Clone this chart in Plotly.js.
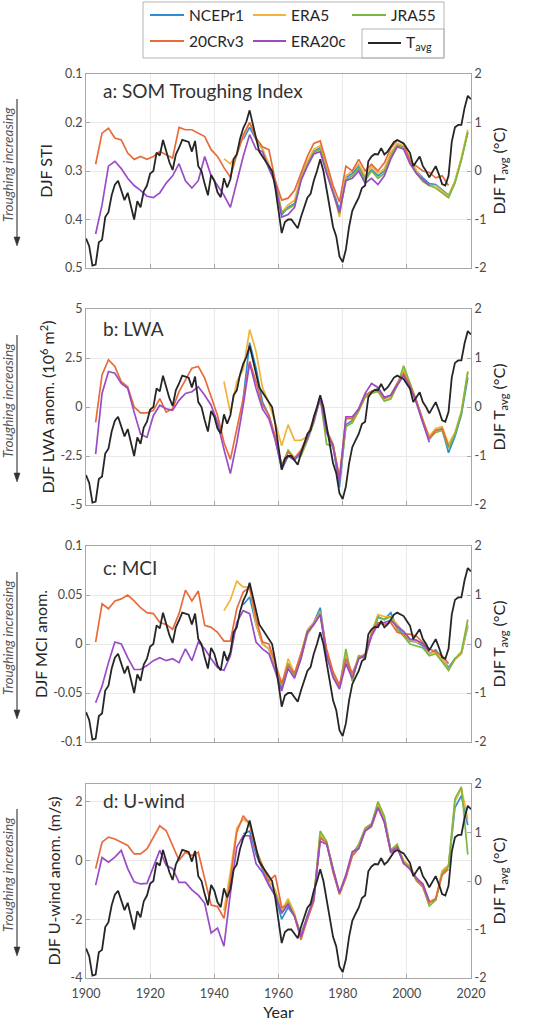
<!DOCTYPE html>
<html>
<head>
<meta charset="utf-8">
<script src="https://cdn.plot.ly/plotly-3.0.1.min.js"></script>
<style>
  html, body { margin: 0; padding: 0; background: #ffffff; }
  #chart { width: 547px; height: 1024px; }
</style>
</head>
<body>
<div id="chart"></div>
<script>
// ---- Years ----
const yrTavg = [
  1900,1901,1902,1903,1904,1905,1906,1907,1908,1909,
  1910,1911,1912,1913,1914,1915,1916,1917,1918,1919,
  1920,1921,1922,1923,1924,1925,1926,1927,1928,1929,
  1930,1931,1932,1933,1934,1935,1936,1937,1938,1939,
  1940,1941,1942,1943,1944,1945,1946,1947,1948,1949,
  1950,1951,1952,1953,1954,1955,1956,1957,1958,1959,
  1960,1961,1962,1963,1964,1965,1966,1967,1968,1969,
  1970,1971,1972,1973,1974,1975,1976,1977,1978,1979,
  1980,1981,1982,1983,1984,1985,1986,1987,1988,1989,
  1990,1991,1992,1993,1994,1995,1996,1997,1998,1999,
  2000,2001,2002,2003,2004,2005,2006,2007,2008,2009,
  2010,2011,2012,2013,2014,2015,2016,2017,2018,2019,
  2020];
const yr20C = [1903,1905,1907,1909,1911,1913,1915,1917,1919,1921,1923,1925,1927,1929,1931,1933,1935,1937,1939,1941,
  1943,1945,1947,1949,1951,1953,1955,1957,1959,1961,1963,1965,1967,1969,1971,1973,1975,1977,1979,1981,
  1983,1985,1987,1989,1991,1993,1995,1997,1999,2001,2003,2005,2007,2009,2011,2013];
const yrE20C = [1903,1905,1907,1909,1911,1913,1915,1917,1919,1921,1923,1925,1927,1929,1931,1933,1935,1937,1939,1941,
  1943,1945,1947,1949,1951,1953,1955,1957,1959,1961,1963,1965,1967,1969,1971,1973,1975,1977,1979,1981,
  1983,1985,1987,1989,1991,1993,1995,1997,1999,2001,2003,2005,2007];
const yrERA5 = [1943,1945,1947,1949,1951,1953,1955,1957,1959,1961,1963,1965,1967,1969,1971,1973,1975,1977,1979,1981,
  1983,1985,1987,1989,1991,1993,1995,1997,1999,2001,2003,2005,2007,2009,2011,2013,2015,2017,2019];
const yrNCEP = [1949,1951,1953,1955,1957,1959,1961,1963,1965,1967,1969,1971,1973,1975,1977,1979,1981,1983,1985,1987,
  1989,1991,1993,1995,1997,1999,2001,2003,2005,2007,2009,2011,2013,2015,2017,2019];
const yrJRA = [1959,1961,1963,1965,1967,1969,1971,1973,1975,1977,1979,1981,1983,1985,1987,1989,1991,1993,1995,1997,
  1999,2001,2003,2005,2007,2009,2011,2013,2015,2017,2019];

// ---- DJF average temperature (right axis, °C) ----
const tavg = [
  -1.39,-1.55,-1.95,-1.93,-1.47,-1.42,-0.95,-0.85,-0.5,-0.28,
  -0.2,-0.42,-0.6,-0.45,-0.7,-1.0,-0.62,-0.75,-0.42,-0.3,
  -0.05,0.0,0.38,0.32,0.64,0.42,0.18,0.02,0.34,0.48,
  0.64,0.62,0.6,0.4,0.62,0.1,0.0,-0.27,-0.5,-0.08,
  -0.2,-0.44,-0.54,-0.15,-0.34,-0.17,0.24,0.34,0.66,0.88,
  1.02,1.25,0.98,0.7,0.4,0.3,0.2,0.1,0.0,-0.35,
  -0.8,-1.28,-1.05,-1.0,-1.0,-1.1,-1.18,-0.95,-0.74,-0.55,
  -0.47,-0.2,0.0,0.24,0.0,-0.4,-0.74,-1.15,-1.35,-1.76,
  -1.88,-1.62,-1.15,-0.82,-0.68,-0.55,-0.35,-0.3,0.2,0.3,
  0.35,0.34,0.47,0.34,0.4,0.5,0.6,0.64,0.6,0.57,
  0.47,0.37,0.1,0.2,0.3,0.1,0.0,-0.13,0.0,0.1,
  -0.07,-0.27,-0.3,-0.1,0.6,0.9,0.95,0.95,1.3,1.55,
  1.48];

// ---- a: SOM Troughing Index ----
const a20C = [0.286,0.222,0.212,0.232,0.236,0.263,0.276,0.27,0.276,0.27,
  0.26,0.266,0.273,0.21,0.215,0.215,0.222,0.229,0.256,0.27,
  0.293,0.313,0.266,0.226,0.2,0.232,0.25,0.256,0.32,0.36,
  0.356,0.34,0.305,0.27,0.243,0.238,0.284,0.33,0.364,0.29,
  0.3,0.276,0.3,0.286,0.3,0.283,0.253,0.236,0.243,0.28,
  0.29,0.3,0.303,0.314,0.31,0.33];
const aE20C = [0.43,0.37,0.29,0.28,0.295,0.315,0.33,0.34,0.352,0.355,
  0.345,0.325,0.31,0.285,0.32,0.335,0.32,0.27,0.31,0.33,
  0.35,0.375,0.32,0.27,0.225,0.255,0.26,0.295,0.325,0.395,
  0.39,0.375,0.32,0.29,0.265,0.26,0.305,0.345,0.385,0.32,
  0.315,0.3,0.325,0.315,0.328,0.31,0.275,0.25,0.255,0.285,
  0.305,0.318,0.33];
const aERA5 = [0.275,0.285,0.265,0.23,0.2,0.232,0.255,0.285,0.32,0.385,
  0.37,0.36,0.31,0.28,0.255,0.248,0.295,0.34,0.395,0.31,
  0.3,0.285,0.31,0.29,0.305,0.295,0.262,0.243,0.248,0.275,
  0.3,0.318,0.33,0.33,0.342,0.352,0.32,0.272,0.215];
const aNCEP = [0.235,0.21,0.235,0.255,0.29,0.32,0.39,0.375,0.367,0.314,
  0.283,0.26,0.252,0.3,0.34,0.38,0.314,0.305,0.29,0.314,
  0.297,0.31,0.3,0.266,0.246,0.25,0.276,0.3,0.314,0.326,
  0.328,0.34,0.35,0.322,0.275,0.22];
const aJRA = [0.325,0.385,0.378,0.37,0.318,0.287,0.262,0.255,0.3,0.343,
  0.388,0.318,0.31,0.295,0.32,0.3,0.315,0.305,0.27,0.248,
  0.252,0.28,0.305,0.322,0.33,0.335,0.345,0.355,0.325,0.278,
  0.22];

// ---- b: LWA anomaly (10^6 m^2) ----
const b20C = [-0.78,1.64,2.41,2.07,1.29,1.03,0.0,-0.3,-0.3,-0.17,
  0.43,-0.26,-0.09,0.78,1.38,1.98,2.07,1.47,0.52,-0.43,
  -1.81,-2.67,-1.12,0.43,2.33,1.29,0.1,-0.4,-1.5,-3.0,
  -2.3,-2.6,-2.2,-1.5,-0.6,0.5,-1.2,-1.9,-3.6,-0.6,
  -0.6,-0.1,0.6,0.8,0.9,0.45,0.6,1.2,1.7,1.1,
  0.3,-0.7,-1.6,-1.2,-1.1,-2.0];
const bE20C = [-2.4,0.69,1.81,1.72,1.2,0.95,-0.26,-1.38,-1.55,-0.43,
  0.09,-0.09,-0.17,0.34,0.69,0.78,1.03,0.6,0.09,-0.78,
  -2.16,-3.4,-1.81,0.09,2.24,0.95,-0.1,-0.6,-1.7,-3.1,
  -2.5,-2.7,-2.3,-1.6,-0.7,0.45,-1.3,-2.0,-3.8,-0.5,
  -0.5,-0.1,0.7,1.2,1.0,0.5,0.6,1.1,1.6,1.0,
  0.2,-0.8,-1.8];
const bERA5 = [1.3,-0.3,1.3,1.9,3.95,2.84,1.0,0.2,-0.8,-1.98,
  -0.9,-1.7,-1.7,-1.5,-0.6,0.5,-1.2,-1.9,-3.6,-1.0,
  -0.8,-0.2,0.5,0.7,0.8,0.3,0.5,1.1,1.9,1.2,
  0.3,-0.7,-1.5,-1.1,-1.0,-1.9,-1.3,-0.2,1.8];
const bNCEP = [0.4,3.28,1.98,0.26,-0.43,-1.64,-3.19,-2.5,-2.7,-2.33,
  -1.64,-0.69,0.52,-1.29,-1.98,-4.1,-0.9,-0.69,-0.09,0.6,
  0.78,0.95,0.43,0.6,1.2,1.72,1.12,0.26,-0.78,-1.64,
  -1.2,-1.12,-2.33,-1.5,-0.4,1.5];
const bJRA = [-1.6,-3.0,-2.2,-2.6,-2.5,-1.7,-0.8,0.45,-1.9,-2.0,
  -3.8,-1.0,-0.8,-0.2,0.5,0.7,0.8,0.3,0.4,1.1,
  2.1,1.2,0.3,-0.8,-1.6,-1.3,-1.2,-2.1,-1.4,-0.3,
  1.8];

// ---- c: MCI anomaly ----
const c20C = [0.002,0.041,0.036,0.044,0.046,0.05,0.044,0.037,0.032,0.031,
  0.022,0.02,0.015,0.031,0.055,0.044,0.054,0.019,0.017,0.012,
  0.003,0.003,0.036,0.053,0.058,0.026,0.002,0.0,-0.02,-0.04,
  -0.022,-0.03,-0.01,0.012,0.02,0.03,-0.005,-0.028,-0.042,-0.015,
  -0.03,-0.015,-0.01,0.01,0.022,0.02,0.022,0.012,0.01,0.01,
  0.008,0.002,-0.005,-0.008,-0.012,-0.02];
const cE20C = [-0.06,-0.043,-0.019,0.002,0.0,-0.014,-0.026,-0.026,-0.022,-0.017,
  -0.014,-0.017,-0.015,-0.019,-0.005,-0.017,0.002,-0.005,-0.015,-0.024,
  -0.027,-0.012,0.022,0.034,0.031,0.002,-0.005,-0.01,-0.028,-0.048,
  -0.025,-0.035,-0.015,0.012,0.02,0.03,-0.012,-0.034,-0.046,-0.02,
  -0.035,-0.015,-0.012,0.008,0.02,0.022,0.024,0.018,0.013,0.005,
  0.004,0.0,-0.008];
const cERA5 = [0.034,0.045,0.064,0.058,0.058,0.02,0.0,-0.005,-0.022,-0.042,
  -0.015,-0.03,-0.01,0.014,0.022,0.033,-0.01,-0.03,-0.044,-0.01,
  -0.032,-0.012,-0.012,0.012,0.03,0.028,0.028,0.02,0.012,0.004,
  0.002,0.0,-0.01,-0.008,-0.015,-0.026,-0.016,-0.01,0.02];
const cNCEP = [0.04,0.048,0.02,0.0,-0.005,-0.024,-0.045,-0.02,-0.032,-0.012,
  0.014,0.022,0.037,-0.009,-0.032,-0.044,-0.015,-0.035,-0.013,-0.012,
  0.01,0.027,0.025,0.032,0.016,0.01,0.003,0.002,-0.002,-0.01,
  -0.006,-0.015,-0.024,-0.015,-0.01,0.018];
const cJRA = [-0.025,-0.042,-0.02,-0.033,-0.015,0.01,0.02,0.032,-0.01,-0.032,
  -0.045,-0.005,-0.038,-0.012,-0.015,0.01,0.028,0.025,0.028,0.015,
  0.008,0.0,-0.002,-0.004,-0.012,-0.01,-0.018,-0.027,-0.015,-0.008,
  0.025];

// ---- d: U-wind anomaly (m/s) ----
const d20C = [-0.28,0.62,0.79,0.73,0.62,0.51,0.22,0.22,0.39,0.79,
  1.18,1.01,0.51,0.0,0.28,0.17,0.28,-0.67,-1.52,-1.57,
  -1.97,-0.67,0.96,1.52,1.24,0.34,-0.2,-0.7,-0.5,-1.6,
  -1.5,-1.9,-2.7,-2.0,-1.4,0.75,0.6,-0.4,-1.15,-0.6,
  0.15,0.4,1.0,1.15,1.8,1.3,0.25,0.45,-0.1,-0.3,
  -0.65,-0.9,-1.45,-1.3,-0.5,-0.3];
const dE20C = [-0.84,0.1,-0.06,0.11,0.34,-0.28,-0.73,-0.8,-0.78,-0.22,
  0.34,-0.17,-0.28,-0.75,-0.75,-1.0,-1.18,-1.46,-2.47,-2.3,
  -2.92,-1.12,0.45,0.84,0.84,-0.11,-0.4,-0.85,-1.2,-1.8,
  -1.5,-1.9,-2.6,-1.9,-1.3,0.65,0.55,-0.3,-1.1,-0.5,
  0.3,0.4,1.0,1.2,1.8,1.3,0.3,0.45,-0.1,-0.3,
  -0.6,-0.8,-1.4];
const dERA5 = [-1.7,-0.4,1.1,1.4,1.25,0.4,-0.2,-0.7,-1.0,-1.7,
  -1.3,-1.8,-2.6,-1.9,-1.3,0.9,0.6,-0.3,-1.1,-0.5,
  0.25,0.5,1.05,1.25,1.9,1.4,0.35,0.5,0.0,-0.2,
  -0.6,-0.8,-1.4,-1.3,-0.35,-0.15,2.0,2.45,1.4];
const dNCEP = [0.9,1.0,0.2,-0.3,-0.8,-1.2,-2.0,-1.6,-1.9,-2.6,
  -1.95,-1.35,0.8,0.6,-0.35,-1.1,-0.55,0.2,0.5,1.05,
  1.2,1.85,1.35,0.3,0.45,-0.1,-0.25,-0.65,-0.85,-1.4,
  -1.35,-0.4,-0.2,1.8,2.2,1.2];
const dJRA = [-1.1,-1.8,-1.4,-1.9,-2.5,-1.9,-1.3,1.0,0.65,-0.3,
  -1.15,-0.55,0.2,0.55,1.1,1.25,2.0,1.5,0.35,0.55,
  -0.05,-0.25,-0.7,-0.9,-1.55,-1.35,-0.45,-0.2,2.1,2.5,
  0.2];

// ---- Styling ----
const FONT = 'Lato, "Open Sans", "DejaVu Sans", sans-serif';
const TXT = '#262626';
const TICK = '#4a4a4a';
const AXIS = '#a8a8a8';
const GRID = '#e9e9e9';
const COL = { NCEPr1: '#2f8fd6', ERA5: '#f0b43a', JRA55: '#7db83c', '20CRv3': '#e86b3c', ERA20c: '#9a4cc6', Tavg: '#262626' };

const W = 547, H = 1024;
const M = { l: 86, r: 76, t: 74, b: 46 };
const plotW = W - M.l - M.r, plotH = H - M.t - M.b;
const px = v => (v - M.l) / plotW;          // page x (px) -> paper
const py = v => (H - M.b - v) / plotH;      // page y (px) -> paper

const datasets = [
  { name: 'NCEPr1', years: yrNCEP },
  { name: 'ERA5',   years: yrERA5 },
  { name: 'JRA55',  years: yrJRA },
  { name: '20CRv3', years: yr20C },
  { name: 'ERA20c', years: yrE20C }
];

const panels = [
  { label: 'a: SOM Troughing Index', labelY: 90, top: 74, bot: 268,
    ytitle: 'DJF STI', range: [0.5, 0.1],
    tickvals: [0.1, 0.2, 0.3, 0.4, 0.5], ticktext: ['0.1','0.2','0.3','0.4','0.5'], standoff: 8,
    series: [aNCEP, aERA5, aJRA, a20C, aE20C] },
  { label: 'b: LWA', labelY: 328, top: 309, bot: 505,
    ytitle: 'DJF LWA anom. (10<sup>6</sup> m<sup>2</sup>)', range: [-5, 5],
    tickvals: [-5, -2.5, 0, 2.5, 5], ticktext: ['-5','-2.5','0','2.5','5'], standoff: 1,
    series: [bNCEP, bERA5, bJRA, b20C, bE20C] },
  { label: 'c: MCI', labelY: 567, top: 546, bot: 742,
    ytitle: 'DJF MCI anom.', range: [-0.1, 0.1],
    tickvals: [-0.1, -0.05, 0, 0.05, 0.1], ticktext: ['-0.1','-0.05','0','0.05','0.1'], standoff: 1,
    series: [cNCEP, cERA5, cJRA, c20C, cE20C] },
  { label: 'd: U-wind', labelY: 800, top: 784, bot: 978,
    ytitle: 'DJF U-wind anom. (m/s)', range: [-4, 2.6],
    tickvals: [-4, -2, 0, 2], ticktext: ['-4','-2','0','2'], standoff: 5,
    series: [dNCEP, dERA5, dJRA, d20C, dE20C] }
];

const traces = [];
const layout = {
  width: W, height: H, autosize: false,
  margin: M, paper_bgcolor: '#ffffff', plot_bgcolor: '#ffffff',
  showlegend: false,
  font: { family: FONT, color: TXT },
  annotations: [], shapes: []
};

panels.forEach((p, i) => {
  const xName = i === 0 ? 'x' : 'x' + (i + 1);
  const yL = 2 * i + 1, yR = 2 * i + 2;
  const yLName = yL === 1 ? 'y' : 'y' + yL;
  const yRName = 'y' + yR;
  const domain = [py(p.bot), py(p.top)];

  const xa = {
    domain: [0, 1], anchor: yLName, range: [1900, 2020],
    tickvals: [1900, 1920, 1940, 1960, 1980, 2000, 2020],
    ticktext: ['1900','1920','1940','1960','1980','2000','2020'],
    showticklabels: i === 3, ticks: 'inside', ticklen: 4, tickcolor: AXIS,
    ticklabelstandoff: 4,
    showline: true, mirror: true, linecolor: AXIS, linewidth: 1,
    showgrid: true, gridcolor: GRID, gridwidth: 1, zeroline: false,
    tickfont: { family: FONT, size: 12.5, color: TICK }
  };
  if (i === 3) xa.title = { text: 'Year', font: { family: FONT, size: 16, color: TXT }, standoff: 6 };
  layout[i === 0 ? 'xaxis' : 'xaxis' + (i + 1)] = xa;

  layout['yaxis' + (yL === 1 ? '' : yL)] = {
    domain: domain, anchor: xName, range: p.range,
    tickvals: p.tickvals, ticktext: p.ticktext,
    ticks: 'inside', ticklen: 4, tickcolor: AXIS,
    showline: true, linecolor: AXIS, linewidth: 1,
    showgrid: true, gridcolor: GRID, gridwidth: 1, zeroline: false,
    tickfont: { family: FONT, size: 12.5, color: TICK },
    title: { text: p.ytitle, font: { family: FONT, size: 16, color: TXT }, standoff: p.standoff }
  };
  layout['yaxis' + yR] = {
    domain: domain, anchor: xName, overlaying: yLName, side: 'right', range: [-2, 2],
    tickvals: [-2, -1, 0, 1, 2], ticktext: ['-2','-1','0','1','2'],
    ticks: 'inside', ticklen: 4, tickcolor: AXIS,
    showline: true, linecolor: AXIS, linewidth: 1,
    showgrid: false, zeroline: false,
    tickfont: { family: FONT, size: 12.5, color: TICK },
    title: { text: 'DJF T<sub>avg</sub> (°C)', font: { family: FONT, size: 16, color: TXT }, standoff: 8 }
  };

  datasets.forEach((d, k) => {
    traces.push({
      type: 'scatter', mode: 'lines', name: d.name,
      x: d.years, y: p.series[k], xaxis: xName, yaxis: yLName,
      line: { color: COL[d.name], width: 1.7 }, hoverinfo: 'skip'
    });
  });
  traces.push({
    type: 'scatter', mode: 'lines', name: 'T<sub>avg</sub>',
    x: yrTavg, y: tavg, xaxis: xName, yaxis: yRName,
    line: { color: COL.Tavg, width: 1.8 }, hoverinfo: 'skip'
  });

  // panel label
  layout.annotations.push({
    xref: 'paper', yref: 'paper', x: px(101), y: py(p.labelY),
    xanchor: 'left', yanchor: 'middle', showarrow: false,
    text: p.label, font: { family: FONT, size: 19, color: '#333333' }
  });

  // "Troughing increasing" note with a downward arrow beside it
  const cy = (p.top + p.bot) / 2;
  layout.annotations.push({
    xref: 'paper', yref: 'paper', x: px(8), y: py(cy - 6),
    xanchor: 'center', yanchor: 'middle', showarrow: false, textangle: -90,
    text: '<i>Troughing increasing</i>', font: { family: FONT, size: 13.5, color: '#555555' }
  });
  layout.shapes.push({ type: 'line', xref: 'paper', yref: 'paper',
    x0: px(17), x1: px(17), y0: py(cy - 72), y1: py(cy + 68),
    line: { color: '#333333', width: 1.1 } });
  layout.shapes.push({ type: 'path', xref: 'paper', yref: 'paper',
    path: 'M ' + px(14) + ',' + py(cy + 66) + ' L ' + px(20) + ',' + py(cy + 66) +
          ' L ' + px(17) + ',' + py(cy + 75) + ' Z',
    fillcolor: '#333333', line: { color: '#333333', width: 0.5 } });
});

// ---- Legend ----
const legendRows = [
  { name: 'NCEPr1', x0: 150, x1: 184, y: 15, tx: 187 },
  { name: 'ERA5',   x0: 253, x1: 286, y: 15, tx: 289 },
  { name: 'JRA55',  x0: 352, x1: 386, y: 15, tx: 389 },
  { name: '20CRv3', x0: 150, x1: 184, y: 41, tx: 187 },
  { name: 'ERA20c', x0: 253, x1: 286, y: 41, tx: 289 },
  { name: 'Tavg',   x0: 368, x1: 401, y: 43, tx: 404, label: 'T<sub>avg</sub>' }
];
layout.shapes.push({ type: 'rect', xref: 'paper', yref: 'paper',
  x0: px(143), x1: px(444), y0: py(58), y1: py(2),
  line: { color: '#b4b4b4', width: 1 }, fillcolor: 'rgba(0,0,0,0)' });
layout.shapes.push({ type: 'rect', xref: 'paper', yref: 'paper',
  x0: px(362), x1: px(444), y0: py(58), y1: py(29),
  line: { color: '#b4b4b4', width: 1 }, fillcolor: 'rgba(0,0,0,0)' });
legendRows.forEach(r => {
  layout.shapes.push({ type: 'line', xref: 'paper', yref: 'paper',
    x0: px(r.x0), x1: px(r.x1), y0: py(r.y), y1: py(r.y),
    line: { color: COL[r.name], width: 2 } });
  layout.annotations.push({ xref: 'paper', yref: 'paper', x: px(r.tx), y: py(r.y),
    xanchor: 'left', yanchor: 'middle', showarrow: false,
    text: r.label || r.name, font: { family: FONT, size: 15.5, color: TXT } });
});

Plotly.newPlot('chart', traces, layout, { displayModeBar: false, staticPlot: true });
</script>
</body>
</html>
